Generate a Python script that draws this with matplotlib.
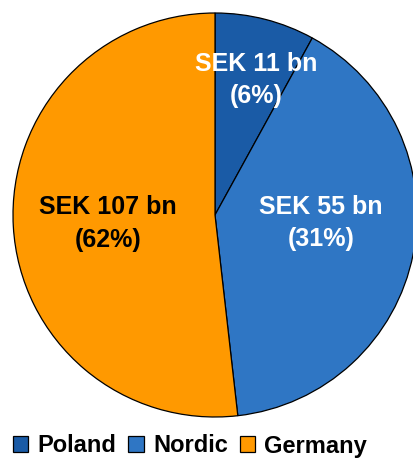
import matplotlib.pyplot as plt

# slice shares as drawn in the picture (clockwise from 12 o'clock)
regions = ['Poland', 'Nordic', 'Germany']
shares = [8.0, 40.2, 51.8]
# label text printed on the slices
sek_bn = [11, 55, 107]
pct_label = [6, 31, 62]
colors = ['#1A5BA6', '#2F76C4', '#FF9900']

W, H = 414, 459
fig = plt.figure(figsize=(W / 100, H / 100), dpi=100)

cx, cy, r = 215, 215, 202
ax = fig.add_axes([(cx - r) / W, (H - cy - r) / H, 2 * r / W, 2 * r / H])
wedges, _ = ax.pie(shares, colors=colors, startangle=90, counterclock=False,
                   wedgeprops=dict(edgecolor='black', linewidth=0.9))
ax.set_xlim(-1, 1)
ax.set_ylim(-1, 1)
ax.axis('off')

font = dict(family=['Liberation Sans', 'DejaVu Sans'], weight='bold', size=18)

# label centres in pixels (x, y of first line, y of second line)
label_pos = [(256, 64, 96), (321, 207, 239), (108, 207, 240)]
txt_col = ['white', 'white', 'black']
for (px, py1, py2), v, p, c in zip(label_pos, sek_bn, pct_label, txt_col):
    x = (px - cx) / r
    ax.text(x, (cy - py1) / r, f'SEK {v} bn', ha='center', va='center', color=c, **font)
    ax.text(x, (cy - py2) / r, f'({p}%)', ha='center', va='center', color=c, **font)

leg = fig.legend(wedges, regions, loc='center', bbox_to_anchor=(190 / W, 1 - 446 / H),
                 ncol=3, frameon=False, prop=dict(family=['Liberation Sans', 'DejaVu Sans'],
                                                   weight='bold', size=17),
                 handlelength=0.65, handleheight=0.65, handletextpad=0.4,
                 columnspacing=0.5, borderpad=0)
for h in leg.legend_handles:
    h.set_edgecolor('black')
    h.set_linewidth(0.9)

fig.savefig('out.png', dpi=100)
